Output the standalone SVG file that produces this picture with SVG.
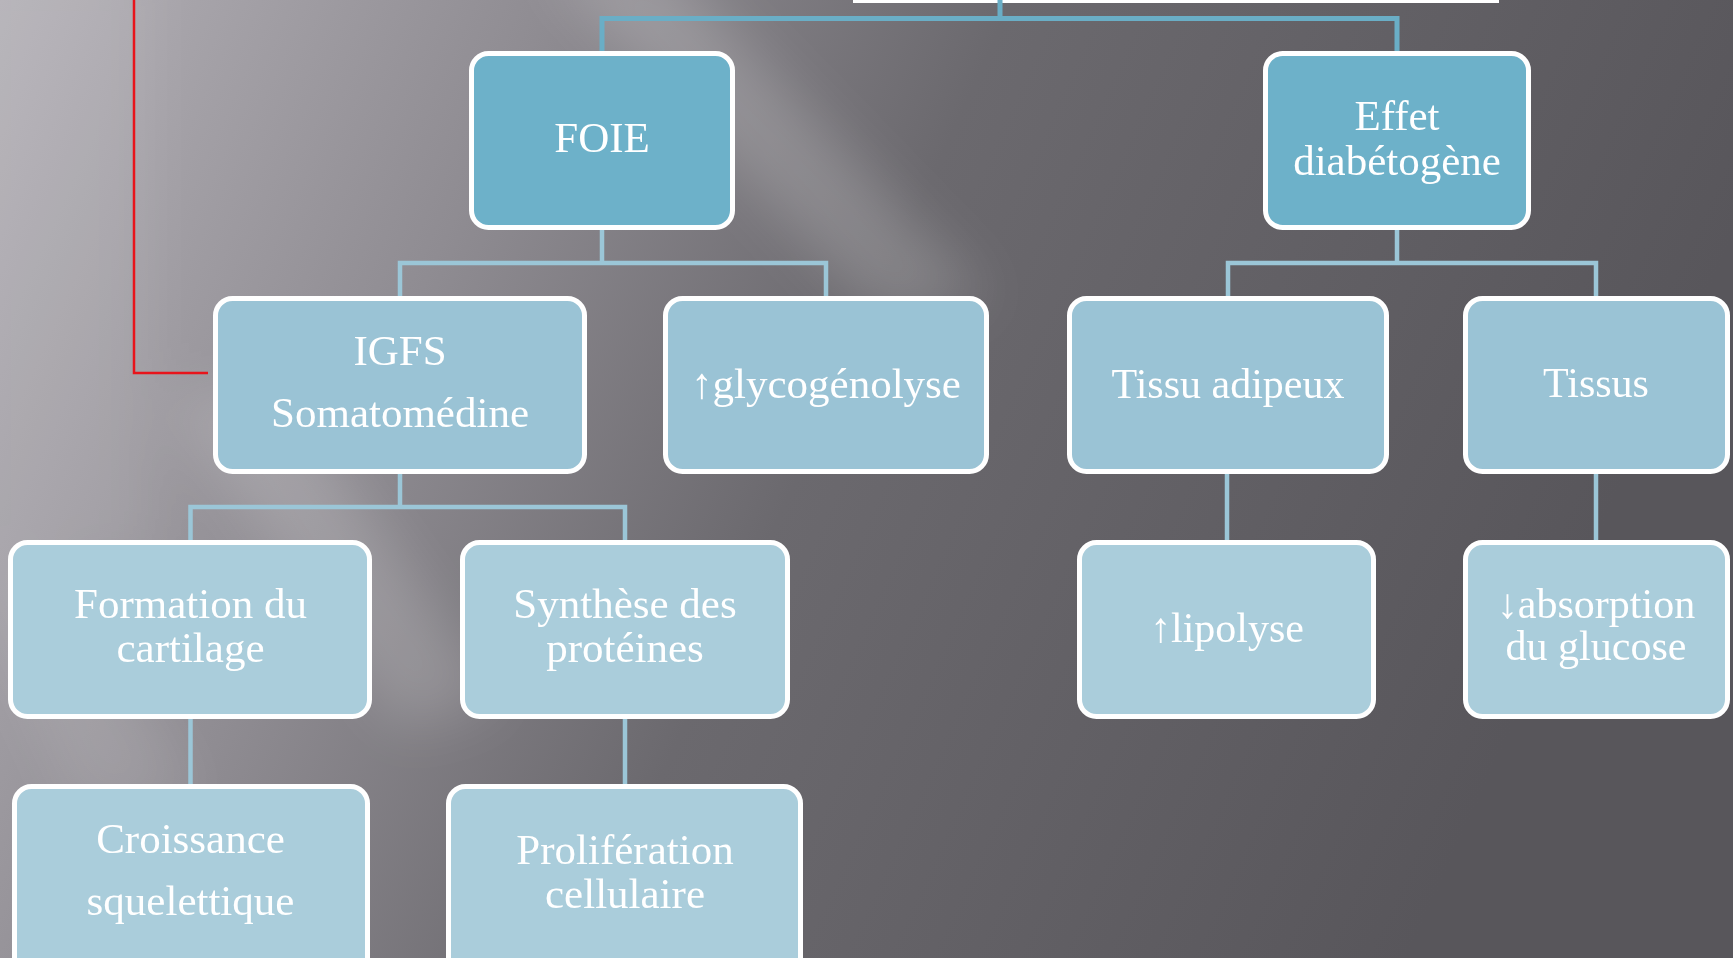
<svg xmlns="http://www.w3.org/2000/svg" width="1733" height="958" viewBox="0 0 1733 958">
<defs>
<linearGradient id="bg" x1="0" y1="0" x2="1" y2="0.25">
<stop offset="0" stop-color="#b3b0b6"/>
<stop offset="0.3" stop-color="#8f8c92"/>
<stop offset="0.55" stop-color="#6b696e"/>
<stop offset="1" stop-color="#58565b"/>
</linearGradient>
<filter id="blur" x="-20%" y="-20%" width="140%" height="140%"><feGaussianBlur stdDeviation="28"/></filter>
<style>
.box{stroke:#ffffff;stroke-width:5}
.l1{fill:#6db1c9}
.l2{fill:#9ac3d5}
.l3{fill:#aacddb}
.t{fill:#ffffff;font-family:"Liberation Serif","Times New Roman",serif;font-size:42px;text-anchor:middle}
.p{font-size:43px}
.c1{fill:none;stroke:#6aaec6;stroke-width:5}
.c2{fill:none;stroke:#9bc6d7;stroke-width:4.5}
</style>
</defs>
<rect x="0" y="0" width="1733" height="958" fill="url(#bg)"/>
<g filter="url(#blur)" fill="#ffffff">
<polygon points="540,-40 660,-40 990,300 880,320" opacity="0.18"/>
<polygon points="170,400 280,390 500,700 400,730" opacity="0.16"/>
<polygon points="-40,560 60,560 200,800 80,820" opacity="0.1"/>
<polygon points="-40,-40 150,-40 150,560 -40,560" opacity="0.08"/>
</g>
<rect x="853" y="0" width="646" height="3" fill="#ffffff"/>
<g id="connectors">
<path class="c1" d="M1000,0 V18.5 M602,53 V18.5 H1397 V53"/>
<path class="c2" d="M602,230 V263 M400,296 V263 H826 V296"/>
<path class="c2" d="M1397,230 V263 M1228,296 V263 H1596 V296"/>
<path class="c2" d="M400,474 V507 M190.5,540 V507 H625 V540"/>
<path class="c2" d="M1227,474 V540"/>
<path class="c2" d="M1596,474 V540"/>
<path class="c2" d="M190.5,719 V784"/>
<path class="c2" d="M625,719 V784"/>
<path d="M134,0 V373 H208" fill="none" stroke="#e8141b" stroke-width="2.5"/>
</g>
<g id="foie"><rect class="box l1" x="471.5" y="53.5" width="261" height="174" rx="17"/><text class="t p" x="602" y="152">FOIE</text></g>
<g id="effet"><rect class="box l1" x="1265.5" y="53.5" width="263" height="174" rx="17"/><text class="t p" x="1397" y="130">Effet</text><text class="t p" x="1397" y="175">diabétogène</text></g>
<g id="igfs"><rect class="box l2" x="215.5" y="298.5" width="369" height="173" rx="17"/><text class="t p" x="400" y="365">IGFS</text><text class="t p" x="400" y="427">Somatomédine</text></g>
<g id="glyco"><rect class="box l2" x="665.5" y="298.5" width="321" height="173" rx="17"/><text class="t p" x="826" y="398">↑glycogénolyse</text></g>
<g id="adipeux"><rect class="box l2" x="1069.5" y="298.5" width="317" height="173" rx="17"/><text class="t" x="1228" y="398">Tissu adipeux</text></g>
<g id="tissus"><rect class="box l2" x="1465.5" y="298.5" width="262" height="173" rx="17"/><text class="t" x="1596" y="397">Tissus</text></g>
<g id="formation"><rect class="box l3" x="10.5" y="542.5" width="359" height="174" rx="17"/><text class="t p" x="190.5" y="618">Formation du</text><text class="t p" x="190.5" y="662">cartilage</text></g>
<g id="synthese"><rect class="box l3" x="462.5" y="542.5" width="325" height="174" rx="17"/><text class="t p" x="625" y="618">Synthèse des</text><text class="t p" x="625" y="662">protéines</text></g>
<g id="lipolyse"><rect class="box l3" x="1079.5" y="542.5" width="294" height="174" rx="17"/><text class="t" x="1227" y="642">↑lipolyse</text></g>
<g id="absorption"><rect class="box l3" x="1465.5" y="542.5" width="262" height="174" rx="17"/><text class="t" x="1596" y="618">↓absorption</text><text class="t" x="1596" y="660">du glucose</text></g>
<g id="croissance"><rect class="box l3" x="14.5" y="786.5" width="353" height="190" rx="17"/><text class="t p" x="190.5" y="853">Croissance</text><text class="t p" x="190.5" y="915">squelettique</text></g>
<g id="proliferation"><rect class="box l3" x="448.5" y="786.5" width="352" height="190" rx="17"/><text class="t p" x="625" y="864">Prolifération</text><text class="t p" x="625" y="908">cellulaire</text></g>
</svg>
